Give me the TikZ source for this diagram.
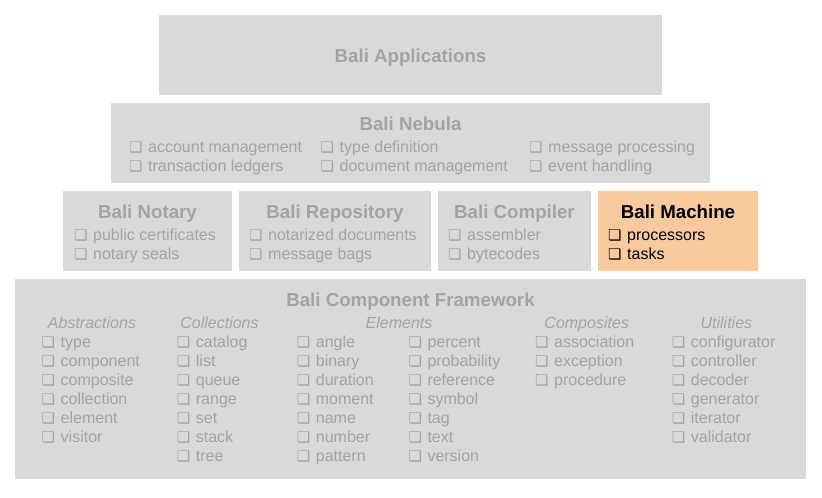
\documentclass[tikz,border=0pt]{standalone}
\usepackage{fontspec}
\setmainfont{Liberation Sans}
\newfontfamily\symfont{DejaVu Sans}
\definecolor{boxgray}{HTML}{D9D9D9}
\definecolor{txtgray}{HTML}{A3A3A3}
\definecolor{peach}{HTML}{F9CB9C}
\newcommand{\cb}{\makebox[19pt][l]{\symfont\fontsize{15}{15}\selectfont ❏}}
\tikzset{
  box/.style={fill=boxgray, draw=none, inner sep=0pt, anchor=north west},
  hibox/.style={box, fill=peach},
  ttl/.style={anchor=base, inner sep=0pt, font=\fontsize{18.7}{22}\selectfont\bfseries, text=txtgray},
  hdr/.style={anchor=base, inner sep=0pt, font=\fontsize{16}{19}\selectfont\itshape, text=txtgray},
  itm/.style={anchor=base west, inner sep=0pt, font=\fontsize{16}{19}\selectfont, text=txtgray},
  hi/.style={text=black}
}
\begin{document}
\begin{tikzpicture}[x=1pt,y=-1pt]
\useasboundingbox (0,0) rectangle (822,498);
% boxes
\node[box, minimum width=503pt, minimum height=80pt] (app) at (159,15) {};
\node[box, minimum width=599pt, minimum height=80pt] (neb) at (111,103) {};
\node[box, minimum width=169pt, minimum height=80pt] (not) at (63,191) {};
\node[box, minimum width=192pt, minimum height=80pt] (rep) at (239,191) {};
\node[box, minimum width=153pt, minimum height=80pt] (com) at (438,191) {};
\node[hibox, minimum width=160pt, minimum height=80pt] (mac) at (598,191) {};
\node[box, minimum width=791pt, minimum height=200pt] (fw) at (15,279) {};
% Applications
\node[ttl] (appT) at (410.5,62) {Bali Applications};
% Nebula
\node[ttl] (nebT) at (410.5,130) {Bali Nebula};
\node[itm] (n1) at (129,152) {\cb account management};
\node[itm] (n2) at (129,171) {\cb transaction ledgers};
\node[itm] (n3) at (320.5,152) {\cb type definition};
\node[itm] (n4) at (320.5,171) {\cb document management};
\node[itm] (n5) at (529,152) {\cb message processing};
\node[itm] (n6) at (529,171) {\cb event handling};
% Row 3
\node[ttl] (notT) at (147.5,218) {Bali Notary};
\node[itm] (o1) at (74,240) {\cb public certificates};
\node[itm] (o2) at (74,259) {\cb notary seals};
\node[ttl] (repT) at (335,218) {Bali Repository};
\node[itm] (r1) at (249,240) {\cb notarized documents};
\node[itm] (r2) at (249,259) {\cb message bags};
\node[ttl] (comT) at (514.5,218) {Bali Compiler};
\node[itm] (c1) at (448,240) {\cb assembler};
\node[itm] (c2) at (448,259) {\cb bytecodes};
\node[ttl, hi] (macT) at (678,218) {Bali Machine};
\node[itm, hi] (m1) at (608,240) {\cb processors};
\node[itm, hi] (m2) at (608,259) {\cb tasks};
% Framework
\node[ttl] (fwT) at (410.5,306) {Bali Component Framework};
\node[hdr] (hA) at (92,328) {Abstractions};
\node[hdr] (hC) at (219.5,328) {Collections};
\node[hdr] (hE) at (399,328) {Elements};
\node[hdr] (hP) at (586.7,328) {Composites};
\node[hdr] (hU) at (726.4,328) {Utilities};
% Abstractions
\node[itm] (a1) at (41.5,347) {\cb type};
\node[itm] (a2) at (41.5,366) {\cb component};
\node[itm] (a3) at (41.5,385) {\cb composite};
\node[itm] (a4) at (41.5,404) {\cb collection};
\node[itm] (a5) at (41.5,423) {\cb element};
\node[itm] (a6) at (41.5,442) {\cb visitor};
% Collections
\node[itm] (k1) at (176.7,347) {\cb catalog};
\node[itm] (k2) at (176.7,366) {\cb list};
\node[itm] (k3) at (176.7,385) {\cb queue};
\node[itm] (k4) at (176.7,404) {\cb range};
\node[itm] (k5) at (176.7,423) {\cb set};
\node[itm] (k6) at (176.7,442) {\cb stack};
\node[itm] (k7) at (176.7,461) {\cb tree};
% Elements
\node[itm] (e1) at (296.7,347) {\cb angle};
\node[itm] (e2) at (296.7,366) {\cb binary};
\node[itm] (e3) at (296.7,385) {\cb duration};
\node[itm] (e4) at (296.7,404) {\cb moment};
\node[itm] (e5) at (296.7,423) {\cb name};
\node[itm] (e6) at (296.7,442) {\cb number};
\node[itm] (e7) at (296.7,461) {\cb pattern};
\node[itm] (f1) at (408.3,347) {\cb percent};
\node[itm] (f2) at (408.3,366) {\cb probability};
\node[itm] (f3) at (408.3,385) {\cb reference};
\node[itm] (f4) at (408.3,404) {\cb symbol};
\node[itm] (f5) at (408.3,423) {\cb tag};
\node[itm] (f6) at (408.3,442) {\cb text};
\node[itm] (f7) at (408.3,461) {\cb version};
% Composites
\node[itm] (p1) at (535,347) {\cb association};
\node[itm] (p2) at (535,366) {\cb exception};
\node[itm] (p3) at (535,385) {\cb procedure};
% Utilities
\node[itm] (u1) at (671.7,347) {\cb configurator};
\node[itm] (u2) at (671.7,366) {\cb controller};
\node[itm] (u3) at (671.7,385) {\cb decoder};
\node[itm] (u4) at (671.7,404) {\cb generator};
\node[itm] (u5) at (671.7,423) {\cb iterator};
\node[itm] (u6) at (671.7,442) {\cb validator};
\end{tikzpicture}
\end{document}
